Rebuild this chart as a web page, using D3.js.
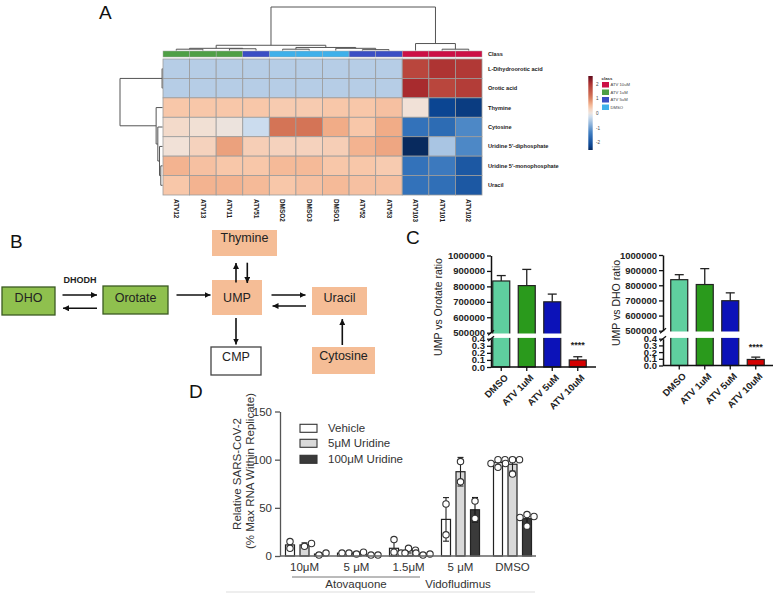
<!DOCTYPE html>
<html><head><meta charset="utf-8">
<script src="https://cdn.jsdelivr.net/npm/d3@7"></script>
<style>body{margin:0;background:#fff}svg{display:block}text{font-family:"Liberation Sans",Arial,Helvetica,sans-serif}</style>
</head><body>
<svg id="c" width="776" height="594"></svg>
<script>
// ---------------- DATA ----------------
// Panel A heatmap
const heatCols = ["ATV12","ATV13","ATV11","ATV51","DMSO2","DMSO3","DMSO1","ATV52","ATV53","ATV103","ATV101","ATV102"];
const heatColClass = ["ATV 1uM","ATV 1uM","ATV 1uM","ATV 5uM","DMSO","DMSO","DMSO","ATV 5uM","ATV 5uM","ATV 10uM","ATV 10uM","ATV 10uM"];
const heatRows = ["L-Dihydroorotic acid","Orotic acid","Thymine","Cytosine","Uridine 5'-diphosphate","Uridine 5'-monophosphate","Uracil"];
const heatValues = [
  [-0.4,-0.4,-0.4,-0.4,-0.4,-0.4,-0.4,-0.4,-0.4, 1.8, 2.0, 1.95],
  [-0.4,-0.4,-0.4,-0.4,-0.4,-0.4,-0.4,-0.4,-0.4, 2.1, 1.8, 1.9],
  [0.45,0.45,0.45,0.45,0.4,0.4,0.45,0.45,0.5, 0.1,-2.2,-2.3],
  [0.2,0.12,0.02,-0.25,1.15,1.15,0.65,0.45,0.65,-1.5,-1.6,-1.2],
  [0.1,0.3,0.75,0.35,0.3,0.3,0.35,0.6,0.7,-2.6,-0.55,-1.2],
  [0.6,0.5,0.45,0.45,0.55,0.55,0.45,0.45,0.4,-1.5,-1.4,-1.9],
  [0.45,0.6,0.6,0.55,0.45,0.5,0.55,0.5,0.5,-1.5,-1.55,-1.9]
];
const classNames = ["ATV 10uM","ATV 1uM","ATV 5uM","DMSO"];
const classColors = ["#cc1046","#4f9f45","#3b4fc4","#3fb0ea"];
const colorbarTicks = [2,1,0,-1,-2];
const colTree = {h:1,c:[
  {h:0.12,c:[
    {h:0.05,c:[{h:0.03,c:["ATV12","ATV13"]},{h:0.04,c:["ATV11","ATV51"]}]},
    {h:0.07,c:[{h:0.03,c:["DMSO2","DMSO3"]},{h:0.05,c:["DMSO1",{h:0.02,c:["ATV52","ATV53"]}]}]}]},
  {h:0.16,c:["ATV103",{h:0.03,c:["ATV101","ATV102"]}]}]};
const rowTree = {h:1,c:[
  {h:0.01,c:["L-Dihydroorotic acid","Orotic acid"]},
  {h:0.15,c:["Thymine",{h:0.11,c:["Cytosine",{h:0.07,c:["Uridine 5'-diphosphate",{h:0.04,c:["Uridine 5'-monophosphate","Uracil"]}]}]}]}]};

// Panel B pathway
const pathNodes = ["DHO","Orotate","UMP","Thymine","Uracil","CMP","Cytosine"];
const pathKinds = ["green","green","salmon","salmon","salmon","white","salmon"];
const pathEdges = [["DHO","Orotate"],["Orotate","DHO"],["Orotate","UMP"],["UMP","Uracil"],["Uracil","UMP"],["UMP","Thymine"],["Thymine","UMP"],["UMP","CMP"],["Cytosine","Uracil"]];
const enzymeLabel = "DHODH";

// Panel C
const cCats = ["DMSO","ATV 1uM","ATV 5uM","ATV 10uM"];
const cColors = ["#5fcf9f","#2a9a1c","#0c12b8","#d40000"];
const orotateMean = [835000, 805000, 700000, 0.10];
const orotateSD   = [ 35000, 105000,  50000, 0.045];
const dhoMean     = [837000, 805000, 698000, 0.09];
const dhoSD       = [ 33000, 105000,  52000, 0.035];
const cUpperTicks = [500000,600000,700000,800000,900000,1000000];
const cLowerTicks = [0,0.1,0.2,0.3,0.4];
const cSig = "****";

// Panel D
const dGroups = ["10\u03bcM","5 \u03bcM","1.5\u03bcM","5 \u03bcM","DMSO"];
const dSeries = ["Vehicle","5\u03bcM Uridine","100\u03bcM Uridine"];
const dFills = ["#ffffff","#d9d9d9","#3a3a3a"];
const dPoints = [
  [[15,8],[10,13],[1,3]],
  [[3,3],[2,4],[1,1]],
  [[17,4,3],[8,6,3],[1,2,3]],
  [[54,22],[98,77],[57,39]],
  [[100,100,96,92],[100,100,96,85],[43,41,40,31]]
];
const dYTicks = [0,50,100,150];

// ---------------- DRAW ----------------
const svg = d3.select("#c");
[["A",99,19],["B",10,248],["C",406,244],["D",189,398]].forEach(([t,x,y])=>
  svg.append("text").attr("x",x).attr("y",y).attr("font-size",19).attr("fill","#111").text(t));

// ===== Panel A =====
const hx = d3.scaleBand().domain(heatCols).range([163,482]);
const hy = d3.scaleBand().domain(heatRows).range([59,195]);
const heatColor = d3.scaleLinear()
  .domain([-2.5,-2.2,-1.5,-1.2,-0.55,-0.4,-0.25,0,0.1,0.45,0.65,1.15,1.8,2.1,2.55])
  .range(["#082a5e","#0b4592","#3372ba","#4d88c6","#a9c5e3","#b6cde6","#cbdcee","#ebe3df","#f1e1d7","#f8c7a9","#f1ac87","#d47456","#b9463d","#a82b2e","#5e0a1c"])
  .clamp(true);
const classColor = d3.scaleOrdinal().domain(classNames).range(classColors);
const gA = svg.append("g");
heatRows.forEach((r,i)=>heatCols.forEach((c,j)=>{
  gA.append("rect").attr("x",hx(c)).attr("y",hy(r)).attr("width",hx.bandwidth()).attr("height",hy.bandwidth())
    .attr("fill",heatColor(heatValues[i][j])).attr("stroke","#9c9c9c").attr("stroke-width",0.8);
}));
heatCols.forEach((c,j)=>{
  gA.append("rect").attr("x",hx(c)).attr("y",51).attr("width",hx.bandwidth()).attr("height",6)
    .attr("fill",classColor(heatColClass[j])).attr("stroke","#aaa").attr("stroke-width",0.5);
  gA.append("text").attr("transform",`translate(${hx(c)+hx.bandwidth()/2},199) rotate(90)`).attr("dy","0.35em")
    .attr("font-size",6.4).attr("font-weight","bold").attr("fill","#222").text(c);
});
gA.append("text").attr("x",488).attr("y",54).attr("dy","0.35em").attr("font-size",5.6).attr("font-weight","bold").attr("fill","#222").text("Class");
heatRows.forEach(r=>gA.append("text").attr("x",488).attr("y",hy(r)+hy.bandwidth()/2).attr("dy","0.35em")
  .attr("font-size",5.6).attr("font-weight","bold").attr("fill","#222").text(r));

// dendrograms
function dendro(node, leafPos, hPos, horizontal, g){
  if(typeof node==="string") return {p:leafPos(node), h:0};
  const kids = node.c.map(k=>dendro(k,leafPos,hPos,horizontal,g));
  const p = (kids[0].p + kids[kids.length-1].p)/2;
  const hp = hPos(node.h);
  const ln = (a,b,c,d)=>g.append("line").attr("x1",a).attr("y1",b).attr("x2",c).attr("y2",d).attr("stroke","#555").attr("stroke-width",1);
  kids.forEach(k=>{ horizontal ? ln(hp,k.p,hPos(k.h),k.p) : ln(k.p,hp,k.p,hPos(k.h)); });
  horizontal ? ln(hp,kids[0].p,hp,kids[kids.length-1].p) : ln(kids[0].p,hp,kids[kids.length-1].p,hp);
  return {p, h:node.h};
}
const colH = d3.scaleLinear().domain([0,1]).range([50.5,7]);
dendro(colTree, c=>hx(c)+hx.bandwidth()/2, colH, false, gA);
const rowH = d3.scaleLinear().domain([0,1]).range([162.5,120]);
dendro(rowTree, r=>hy(r)+hy.bandwidth()/2, rowH, true, gA);

// colorbar
const cbY = d3.scaleLinear().domain([-2.5,2.55]).range([150,76]);
const grad = svg.append("defs").append("linearGradient").attr("id","cb").attr("x1",0).attr("y1",1).attr("x2",0).attr("y2",0);
d3.range(0,1.0001,0.05).forEach(t=>grad.append("stop").attr("offset",t).attr("stop-color",heatColor(-2.5+t*5.05)));
gA.append("rect").attr("x",588.3).attr("y",76).attr("width",4.4).attr("height",74).attr("fill","url(#cb)");
colorbarTicks.forEach(v=>gA.append("text").attr("x",596).attr("y",cbY(v)).attr("dy","0.35em").attr("font-size",4.6).attr("fill","#444").text(v));
gA.append("text").attr("x",601.5).attr("y",80).attr("font-size",4.4).attr("font-weight","bold").attr("fill","#333").text("class");
classNames.forEach((n,i)=>{
  gA.append("rect").attr("x",602).attr("y",82+i*7.5).attr("width",7).attr("height",5.5).attr("fill",classColors[i]);
  gA.append("text").attr("x",610.5).attr("y",84.8+i*7.5).attr("dy","0.35em").attr("font-size",4.2).attr("fill","#444").text(n);
});

// ===== Panel B =====
const gB = svg.append("g");
const boxLayout = {
  "DHO":{x:2,y:287,w:53,h:28,ty:302},
  "Orotate":{x:103,y:286,w:65,h:28,ty:302},
  "UMP":{x:212,y:280,w:50,h:35,ty:302},
  "Thymine":{x:212,y:230,w:65,h:26,ty:242},
  "Uracil":{x:312,y:287,w:55,h:28,ty:302},
  "CMP":{x:211,y:347,w:50,h:28,ty:361},
  "Cytosine":{x:312,y:347,w:63,h:27,ty:360}
};
const kindFill = {green:"#8fc04e",salmon:"#f5bd96",white:"#ffffff"};
const kindStroke = {green:"#3b5a22",salmon:"none",white:"#444"};
pathNodes.forEach((n,i)=>{
  const b = boxLayout[n];
  gB.append("rect").attr("x",b.x).attr("y",b.y).attr("width",b.w).attr("height",b.h)
    .attr("fill",kindFill[pathKinds[i]]).attr("stroke",kindStroke[pathKinds[i]]).attr("stroke-width",1.3);
  gB.append("text").attr("x",b.x+b.w/2).attr("y",b.ty).attr("text-anchor","middle").attr("font-size",12.5).attr("fill","#222").text(n);
});
svg.select("defs").append("marker").attr("id","ah").attr("viewBox","0 0 10 10").attr("refX",10).attr("refY",5)
  .attr("markerWidth",6).attr("markerHeight",6).attr("markerUnits","userSpaceOnUse").attr("orient","auto")
  .append("path").attr("d","M0,0L10,5L0,10z").attr("fill","#111");
const arrowGeom = {
  "DHO>Orotate":[62.5,295,97,295], "Orotate>DHO":[97,308.3,63,308.3],
  "Orotate>UMP":[176.5,295,210.5,295],
  "UMP>Uracil":[271.5,295,305.5,295], "Uracil>UMP":[306,306,272.5,306],
  "UMP>Thymine":[236,282.5,236,263], "Thymine>UMP":[247.3,262.7,247.3,283],
  "UMP>CMP":[236,318,236,344.5], "Cytosine>Uracil":[342.3,345,342.3,319]
};
pathEdges.forEach(([a,b])=>{
  const g = arrowGeom[a+">"+b];
  gB.append("line").attr("x1",g[0]).attr("y1",g[1]).attr("x2",g[2]).attr("y2",g[3])
    .attr("stroke","#111").attr("stroke-width",1.6).attr("marker-end","url(#ah)");
});
gB.append("text").attr("x",80).attr("y",283).attr("text-anchor","middle").attr("font-size",9).attr("font-weight","bold").attr("fill","#222").text(enzymeLabel);

// ===== Panel C =====
function brokenChart(cfg, means, sds, title){
  const g = svg.append("g");
  const x = d3.scaleBand().domain(cCats).range([cfg.bx0, cfg.bx0+102]).paddingInner(1/3).paddingOuter(1/6);
  const yU = d3.scaleLinear().domain([500000,1000000]).range([cfg.yU0, cfg.yU1]);
  const yL = d3.scaleLinear().domain([0,0.4]).range([cfg.yL0, cfg.yL1]);
  const yv = v => v >= 1 ? yU(v) : yL(v);
  cCats.forEach((c,i)=>{
    const top = yv(means[i]);
    const cx = x(c)+x.bandwidth()/2;
    const e = yv(means[i]+sds[i]);
    g.append("line").attr("x1",cx).attr("x2",cx).attr("y1",top).attr("y2",e).attr("stroke","#222").attr("stroke-width",1.3);
    g.append("line").attr("x1",cx-4.5).attr("x2",cx+4.5).attr("y1",e).attr("y2",e).attr("stroke","#222").attr("stroke-width",1.3);
    g.append("rect").attr("x",x(c)).attr("y",top).attr("width",x.bandwidth()).attr("height",cfg.yL0-top)
      .attr("fill",cColors[i]).attr("stroke","#222").attr("stroke-width",1.2);
  });
  g.append("rect").attr("x",cfg.ax+1).attr("y",cfg.yU0+0.8).attr("width",cfg.xEnd-cfg.ax).attr("height",cfg.yL1-cfg.yU0-1.6).attr("fill","#fff");
  const styleAx = s=>{ s.select(".domain").attr("stroke","#111").attr("stroke-width",1.5);
    s.selectAll(".tick line").attr("stroke","#111").attr("stroke-width",1.3);
    s.selectAll("text").attr("font-family","'Liberation Sans',Arial,sans-serif").attr("font-size",9.5).attr("font-weight","bold").attr("fill","#222"); };
  g.append("g").attr("transform",`translate(${cfg.ax},0)`)
    .call(d3.axisLeft(yU).tickValues(cUpperTicks).tickFormat(d3.format("d")).tickSize(4).tickSizeOuter(0).tickPadding(2)).call(styleAx);
  g.append("g").attr("transform",`translate(${cfg.ax},0)`)
    .call(d3.axisLeft(yL).tickValues(cLowerTicks).tickFormat(d3.format(".1f")).tickSize(4).tickSizeOuter(0).tickPadding(2)).call(styleAx);
  [[cfg.yU0],[cfg.yL1]].forEach(([yy])=>g.append("line").attr("x1",cfg.ax-3).attr("y1",yy+2.5).attr("x2",cfg.ax+3).attr("y2",yy-2.5).attr("stroke","#111").attr("stroke-width",1.3));
  const xa = g.append("g").attr("transform",`translate(0,${cfg.yL0})`)
    .call(d3.axisBottom(x).tickSize(4).tickSizeOuter(0).tickFormat(""));
  xa.select(".domain").attr("d",`M${cfg.ax},0H${cfg.xEnd}`).attr("stroke","#111").attr("stroke-width",1.5);
  xa.selectAll(".tick line").attr("stroke","#111").attr("stroke-width",1.3);
  cCats.forEach(c=>g.append("text").attr("transform",`translate(${x(c)+x.bandwidth()/2+5},${cfg.yL0+9}) rotate(-45)`)
    .attr("text-anchor","end").attr("dy","0.35em").attr("font-size",9.5).attr("font-weight","bold").attr("fill","#222").text(c));
  const last = cCats[cCats.length-1];
  g.append("text").attr("x",x(last)+x.bandwidth()/2).attr("y",cfg.star).attr("text-anchor","middle").attr("font-size",9).attr("font-weight","bold").attr("fill","#222").text(cSig);
  g.append("text").attr("transform",`translate(${cfg.tx},${cfg.tyc}) rotate(-90)`).attr("text-anchor","middle")
    .attr("font-size",10.5).attr("fill","#222").text(title);
}
brokenChart({ax:491,xEnd:596,bx0:488.5,yU0:332.7,yU1:255.5,yL0:367,yL1:338.7,star:347.5,tx:442,tyc:307}, orotateMean, orotateSD, "UMP vs Orotate ratio");
brokenChart({ax:663,xEnd:773,bx0:666.5,yU0:330.7,yU1:255,yL0:365.5,yL1:338.7,star:350,tx:620,tyc:303}, dhoMean, dhoSD, "UMP vs DHO ratio");

// ===== Panel D =====
const gD = svg.append("g");
const dx = d3.scaleBand().domain(d3.range(dGroups.length)).range([278.5,538.5]);
const ds = d3.scalePoint().domain(dSeries).range([-14.5,14.5]);
const dy = d3.scaleLinear().domain([0,150]).range([556,411.5]);
const bw = 9, pr = 3.2;
dPoints.forEach((grp,gi)=>grp.forEach((pts,si)=>{
  const cx = dx(gi)+dx.bandwidth()/2+ds(dSeries[si]);
  const m = d3.mean(pts), sd = d3.deviation(pts)||0;
  gD.append("rect").attr("x",cx-bw/2).attr("y",dy(m)).attr("width",bw).attr("height",dy(0)-dy(m))
    .attr("fill",dFills[si]).attr("stroke","#222").attr("stroke-width",1.2);
  const ec = si===2?"#111":"#222";
  const lo = Math.max(0,m-sd), hi = m+sd;
  gD.append("line").attr("x1",cx).attr("x2",cx).attr("y1",dy(lo)).attr("y2",dy(hi)).attr("stroke",ec).attr("stroke-width",1.1);
  [lo,hi].forEach(v=>gD.append("line").attr("x1",cx-3).attr("x2",cx+3).attr("y1",dy(v)).attr("y2",dy(v)).attr("stroke",ec).attr("stroke-width",1.1));
  const placed = [];
  pts.forEach(v=>{
    const py = dy(v);
    let off = 0;
    for(const o of [0,3.5,-3.5,7,-7]){
      if(placed.every(p=>Math.hypot(p[0]-(cx+o),p[1]-py)>=2*pr-0.5)){off=o;break;}
    }
    placed.push([cx+off,py]);
    gD.append("circle").attr("cx",cx+off).attr("cy",py).attr("r",pr).attr("fill","#fff").attr("stroke","#333").attr("stroke-width",1.1);
  });
}));
const ya = gD.append("g").attr("transform","translate(280,0)")
  .call(d3.axisLeft(dy).tickValues(dYTicks).tickSize(5).tickSizeOuter(0).tickPadding(3));
ya.select(".domain").attr("stroke","#555").attr("stroke-width",1.3);
ya.selectAll(".tick line").attr("stroke","#555").attr("stroke-width",1.3);
ya.selectAll("text").attr("font-family","'Liberation Sans',Arial,sans-serif").attr("font-size",11.5).attr("fill","#333");
gD.append("line").attr("x1",280).attr("x2",536).attr("y1",556).attr("y2",556).attr("stroke","#666").attr("stroke-width",1.4);
dGroups.forEach((gname,i)=>gD.append("text").attr("x",dx(i)+dx.bandwidth()/2).attr("y",571).attr("text-anchor","middle")
  .attr("font-size",11.5).attr("fill","#333").text(gname));
gD.append("line").attr("x1",292).attr("x2",420).attr("y1",577).attr("y2",577).attr("stroke","#777").attr("stroke-width",1);
gD.append("text").attr("x",356).attr("y",588).attr("text-anchor","middle").attr("font-size",11.5).attr("fill","#333").text("Atovaquone");
gD.append("text").attr("x",458).attr("y",588).attr("text-anchor","middle").attr("font-size",11.5).attr("fill","#333").text("Vidofludimus");
gD.append("line").attr("x1",226).attr("x2",535).attr("y1",592).attr("y2",592).attr("stroke","#ddd").attr("stroke-width",1);
gD.append("text").attr("transform","translate(241,474) rotate(-90)").attr("text-anchor","middle").attr("font-size",11.5).attr("fill","#333").text("Relative SARS-CoV-2");
gD.append("text").attr("transform","translate(254,471) rotate(-90)").attr("text-anchor","middle").attr("font-size",11.5).attr("fill","#333").text("(% Max RNA Within  Replicate)");
dSeries.forEach((s,i)=>{
  const yy = [428.3,443.3,459.3][i];
  gD.append("rect").attr("x",300).attr("y",yy-4).attr("width",17).attr("height",8).attr("fill",dFills[i]).attr("stroke","#333").attr("stroke-width",1.1);
  gD.append("text").attr("x",328).attr("y",yy).attr("dy","0.35em").attr("font-size",11.5).attr("fill","#333").text(s);
});
</script>
</body></html>
